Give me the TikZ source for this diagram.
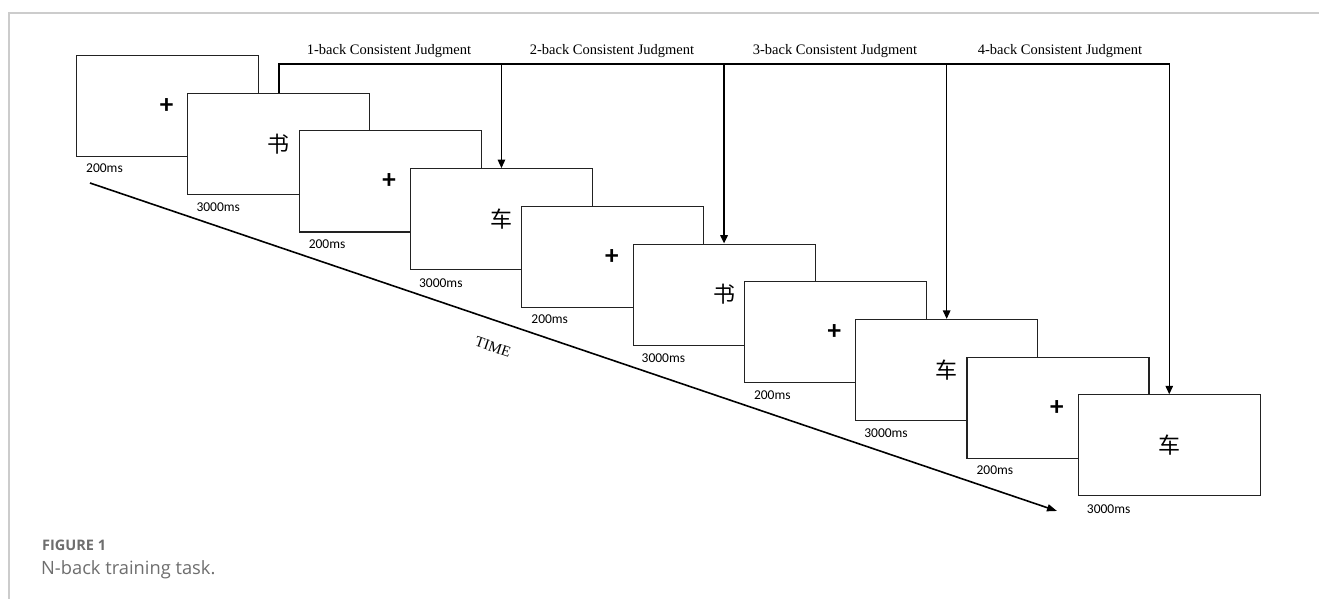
\documentclass[tikz,border=0pt]{standalone}
\usepackage{fontspec}
\setmainfont{Liberation Serif}
\newfontfamily\durfont{Carlito}
\newfontfamily\capfont{Open Sans}
\newfontfamily\cjkfont{Noto Sans CJK SC}
\usetikzlibrary{arrows.meta}
\definecolor{framegray}{HTML}{CCCCCC}
\definecolor{capgray}{HTML}{6E6E6E}
\definecolor{boxline}{HTML}{222222}
\tikzset{
  screen/.style={draw=boxline, fill=white, line width=1.1pt, anchor=north west,
    minimum width=182pt, minimum height=101pt, inner sep=0pt},
  dur/.style={font=\durfont\fontsize{13.5}{15}\selectfont, anchor=west, inner sep=0pt},
  judg/.style={font=\fontsize{14.5}{16}\selectfont, inner sep=0pt},
  fix/.style={font=\durfont\bfseries\fontsize{27}{29}\selectfont, inner sep=0pt},
  hanzi/.style={font=\cjkfont\fontsize{22}{24}\selectfont, inner sep=0pt},
  thickline/.style={line width=1.9pt},
  thinline/.style={line width=1.3pt},
  tip/.style={-{Triangle[length=8.5pt,width=7.5pt]}},
}
\begin{document}
\begin{tikzpicture}[x=1pt,y=-1pt]
\useasboundingbox (0,0) rectangle (1319,599);
\fill[white] (0,0) rectangle (1319,599);
\draw[framegray, line width=1.5pt] (9,599) -- (9,13) -- (1319,13);
% screens
\foreach \i/\c in {0/+,1/书,2/+,3/车,4/+,5/书,6/+,7/车,8/+,9/车}{
  \node[screen] (b\i) at ({76+111.3*\i},{55+37.7*\i}) {};
  \ifodd\i
    \node[hanzi] (c\i) at (b\i.center) {\c};
    \node[dur] (d\i) at ([xshift=9pt,yshift=-12.5pt]b\i.south west) {3000ms};
  \else
    \node[fix] (c\i) at ([xshift=-1pt]b\i.center) {\c};
    \node[dur] (d\i) at ([xshift=10pt,yshift=-11.5pt]b\i.south west) {200ms};
  \fi
}
% judgment brackets
\coordinate (top) at (0,64);
\draw[thickline, tip] (b1.north) -- (b1.north |- top) -- (b5.north |- top) -- (b5.north);
\draw[thinline, tip] (b5.north |- top) -- (b9.north |- top) -- (b9.north);
\draw[thinline, tip] (b3.north |- top) -- (b3.north);
\draw[thinline, tip] (b7.north |- top) -- (b7.north);
\node[judg] (j1) at (389,51) {1-back Consistent Judgment};
\node[judg] (j2) at (612,51) {2-back Consistent Judgment};
\node[judg] (j3) at (835,51) {3-back Consistent Judgment};
\node[judg] (j4) at (1060,51) {4-back Consistent Judgment};
% time axis
\coordinate (t0) at (90,183);
\coordinate (t1) at (1057,511);
\draw[line width=1.6pt, -{Triangle[length=10pt,width=7pt]}] (t0) -- (t1);
\node[font=\fontsize{15}{16}\selectfont, rotate=-18.7, inner sep=0pt] (time) at (493,347) {TIME};
% caption
\node[font=\capfont\bfseries\fontsize{14.5}{16}\selectfont, text=capgray, anchor=west, inner sep=0pt] (fig) at (42,545) {FIGURE 1};
\node[font=\capfont\fontsize{18.3}{20}\selectfont, text=capgray, anchor=west, inner sep=0pt] (cap) at (41,570) {N-back training task.};
\end{tikzpicture}
\end{document}
